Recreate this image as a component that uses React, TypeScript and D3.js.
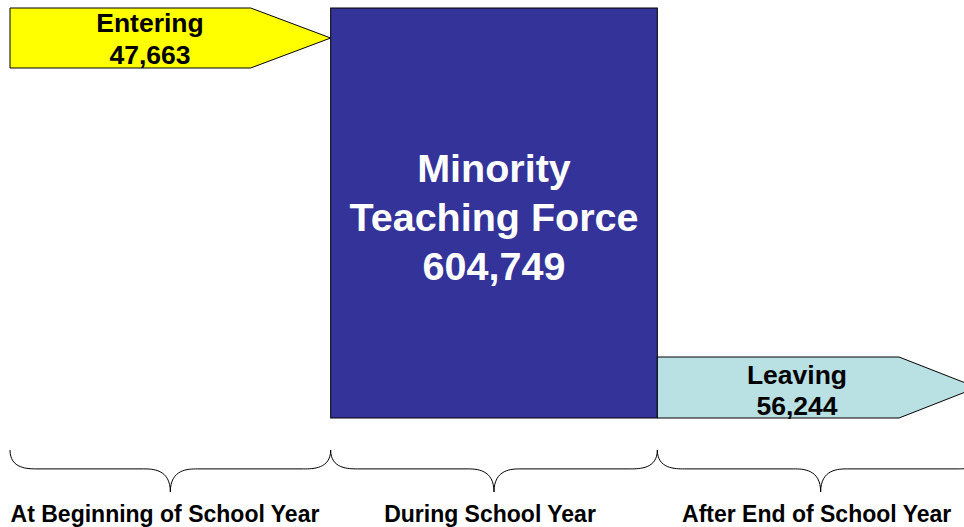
import * as React from 'react';
import * as d3 from 'd3';

const phases = ['At Beginning of School Year', 'During School Year', 'After End of School Year'];
const flowLabels = ['Entering', 'Minority Teaching Force', 'Leaving'];
const flowValues = [47663, 604749, 56244];

const W = 964;
const H = 527;
const FONT = 'Arial, "Liberation Sans", Helvetica, sans-serif';

const fmt = d3.format(',');

const bracePath = (x0: number, x1: number, y0: number, y1: number) => {
    const mid = (x0 + x1) / 2;
    const ym = y0 + (y1 - y0) * 0.45;
    const r = 18;
    return `M${x0},${y0} C${x0},${ym} ${x0 + r},${ym} ${x0 + r * 1.5},${ym}` +
        ` L${mid - r * 1.5},${ym} C${mid - r},${ym} ${mid},${ym} ${mid},${y1}` +
        ` C${mid},${ym} ${mid + r},${ym} ${mid + r * 1.5},${ym}` +
        ` L${x1 - r * 1.5},${ym} C${x1 - r},${ym} ${x1},${ym} ${x1},${y0}`;
};

export default function App() {
    const x = d3.scaleBand<string>().domain(phases).range([4, 984]).paddingInner(0);
    const y = d3.scaleLinear().domain([0, 1]).range([418, 8]);

    const bx = (i: number) => x(phases[i]) as number;
    const bw = x.bandwidth();

    // entering arrow (top left)
    const eTop = y(1), eBot = eTop + 60;
    const eX0 = bx(0) + 6, eTip = bx(1);
    const enterPts: [number, number][] = [
        [eX0, eTop], [eTip - 80, eTop], [eTip, (eTop + eBot) / 2], [eTip - 80, eBot], [eX0, eBot],
    ];

    // leaving arrow (bottom right)
    const lBot = y(0), lTop = lBot - 61;
    const lX0 = bx(2), lTip = bx(2) + bw - 7;
    const leavePts: [number, number][] = [
        [lX0, lTop], [lTip - 78, lTop], [lTip, (lTop + lBot) / 2], [lTip - 78, lBot], [lX0, lBot],
    ];

    const line = d3.line();
    const cx = bx(1) + bw / 2;

    return (
        <svg width={W} height={H} style={{ position: 'absolute', left: 0, top: 0 }} fontFamily={FONT}>
            <rect width={W} height={H} fill="#fff" />
            <path d={line(enterPts) + 'Z'} fill="#FFFF00" stroke="#000" strokeWidth={1} />
            <text textAnchor="middle" fontWeight="bold" fontSize={26.5} fill="#000">
                <tspan x={150} y={32}>{flowLabels[0]}</tspan>
                <tspan x={150} y={64}>{fmt(flowValues[0])}</tspan>
            </text>

            <rect x={bx(1)} y={y(1)} width={bw} height={y(0) - y(1)} fill="#333399" stroke="#000" strokeWidth={1} />
            <text textAnchor="middle" fontWeight="bold" fontSize={39.5} fill="#fff">
                <tspan x={cx} y={182}>Minority</tspan>
                <tspan x={cx} y={231}>Teaching Force</tspan>
                <tspan x={cx} y={280}>{fmt(flowValues[1])}</tspan>
            </text>

            <path d={line(leavePts) + 'Z'} fill="#B9E0E3" stroke="#000" strokeWidth={1} />
            <text textAnchor="middle" fontWeight="bold" fontSize={26.5} fill="#000">
                <tspan x={797} y={384}>{flowLabels[2]}</tspan>
                <tspan x={797} y={415}>{fmt(flowValues[2])}</tspan>
            </text>

            {phases.map((p, i) => {
                const x0 = i === 0 ? bx(i) + 6 : bx(i);
                const x1 = bx(i) + bw;
                return (
                    <g key={p}>
                        <path d={bracePath(x0, x1, 450, 492)} fill="none" stroke="#000" strokeWidth={1} />
                        <text x={i === 0 ? 165 : (x0 + x1) / 2 - 4} y={522} textAnchor="middle" fontWeight="bold" fontSize={23} fill="#000">{p}</text>
                    </g>
                );
            })}
        </svg>
    );
}
